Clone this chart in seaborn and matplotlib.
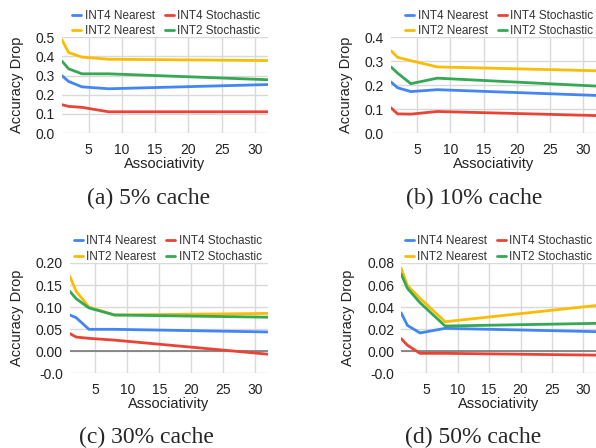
import matplotlib
matplotlib.use("Agg")
import matplotlib.pyplot as plt
import pandas as pd
import seaborn as sns

# associativity values where the curves have points
assoc = [1, 2, 4, 8, 32]

series_names = ["INT4 Nearest", "INT2 Nearest", "INT4 Stochastic", "INT2 Stochastic"]
palette = {"INT4 Nearest": "#4285F4", "INT4 Stochastic": "#EA4335",
           "INT2 Nearest": "#FBBC04", "INT2 Stochastic": "#34A853"}

# (a) 5% cache
a_int4_near = [0.299, 0.269, 0.241, 0.231, 0.253]
a_int4_stoc = [0.148, 0.139, 0.134, 0.111, 0.111]
a_int2_near = [0.486, 0.420, 0.396, 0.385, 0.378]
a_int2_stoc = [0.375, 0.335, 0.309, 0.309, 0.278]

# (b) 10% cache
b_int4_near = [0.213, 0.189, 0.173, 0.181, 0.157]
b_int4_stoc = [0.105, 0.080, 0.079, 0.090, 0.073]
b_int2_near = [0.344, 0.316, 0.302, 0.276, 0.260]
b_int2_stoc = [0.276, 0.250, 0.206, 0.229, 0.196]

# (c) 30% cache
c_int4_near = [0.082, 0.076, 0.0495, 0.0495, 0.0435]
c_int4_stoc = [0.040, 0.032, 0.029, 0.025, -0.007]
c_int2_near = [0.170, 0.136, 0.100, 0.082, 0.0856]
c_int2_stoc = [0.136, 0.119, 0.098, 0.082, 0.077]

# (d) 50% cache
d_int4_near = [0.0348, 0.0234, 0.0165, 0.0207, 0.0177]
d_int4_stoc = [0.0114, 0.0054, -0.002, -0.002, -0.0036]
d_int2_near = [0.0754, 0.0595, 0.048, 0.0267, 0.0414]
d_int2_stoc = [0.070, 0.057, 0.044, 0.0228, 0.0252]

captions = ["(a) 5% cache", "(b) 10% cache", "(c) 30% cache", "(d) 50% cache"]
y_ticks = [[0.0, 0.1, 0.2, 0.3, 0.4, 0.5],
           [0.0, 0.1, 0.2, 0.3, 0.4],
           [-0.05, 0.0, 0.05, 0.10, 0.15, 0.20],
           [-0.02, 0.0, 0.02, 0.04, 0.06, 0.08]]
y_labels = [["0.0", "0.1", "0.2", "0.3", "0.4", "0.5"],
            ["0.0", "0.1", "0.2", "0.3", "0.4"],
            ["-0.0", "0.00", "0.05", "0.10", "0.15", "0.20"],
            ["-0.0", "0.00", "0.02", "0.04", "0.06", "0.08"]]
x_ticks = [5, 10, 15, 20, 25, 30]

panels = [
    (a_int4_near, a_int2_near, a_int4_stoc, a_int2_stoc),
    (b_int4_near, b_int2_near, b_int4_stoc, b_int2_stoc),
    (c_int4_near, c_int2_near, c_int4_stoc, c_int2_stoc),
    (d_int4_near, d_int2_near, d_int4_stoc, d_int2_stoc),
]

# axes rectangles [left, bottom, width, height] in figure fraction
rects = [[0.104, 0.703, 0.346, 0.214],
         [0.656, 0.703, 0.344, 0.214],
         [0.117, 0.167, 0.333, 0.246],
         [0.673, 0.167, 0.327, 0.246]]
# legend anchor (x in axes fraction)
legend_x = [0.050, 0.070, 0.022, 0.018]
caption_pos = [(0.250, 0.558), (0.795, 0.558), (0.245, 0.0246), (0.793, 0.0246)]

sns.set_style("white")
plt.rcParams["font.family"] = ["Liberation Sans", "DejaVu Sans"]

fig = plt.figure(figsize=(5.96, 4.48), dpi=100)

for i, vals in enumerate(panels):
    rows = []
    for name, v in zip(series_names, vals):
        for x, y in zip(assoc, v):
            rows.append({"Associativity": x, "value": y, "series": name})
    df = pd.DataFrame(rows)

    ax = fig.add_axes(rects[i])
    sns.lineplot(data=df, x="Associativity", y="value", hue="series",
                 hue_order=series_names, palette=palette, linewidth=2,
                 ax=ax, legend=True)

    ax.set_xlim(1, 32)
    ax.set_ylim(y_ticks[i][0], y_ticks[i][-1])
    ax.set_xticks(x_ticks)
    ax.set_yticks(y_ticks[i])
    ax.set_yticklabels(y_labels[i])
    ax.grid(True, color="#d9d9d9", linewidth=1)
    ax.set_axisbelow(True)
    for s in ax.spines.values():
        s.set_visible(False)
    ax.tick_params(length=0, labelsize=10, colors="#222222")
    ax.tick_params(axis="x", pad=7)
    ax.tick_params(axis="y", pad=5)
    ax.set_xlabel("Associativity", fontsize=10.5, labelpad=0, color="#222222")
    ax.set_ylabel("Accuracy Drop", fontsize=10.5, color="#222222", labelpad=8.5)
    if y_ticks[i][0] < 0:
        ax.axhline(0, color="#777777", linewidth=1.2, zorder=1.5)

    handles, labels = ax.get_legend_handles_labels()
    ax.legend(handles, labels, ncol=2, frameon=False, loc="lower left",
              bbox_to_anchor=(legend_x[i], 1.0), fontsize=8.5,
              handlelength=0.76, handletextpad=0.28, columnspacing=0.85,
              labelspacing=0.3, borderaxespad=0, borderpad=0,
              labelcolor="#333333")

    fig.text(caption_pos[i][0], caption_pos[i][1], captions[i], ha="center",
             va="center", fontsize=17, family=["Liberation Serif", "DejaVu Serif"])

fig.savefig("out.png", dpi=100)
